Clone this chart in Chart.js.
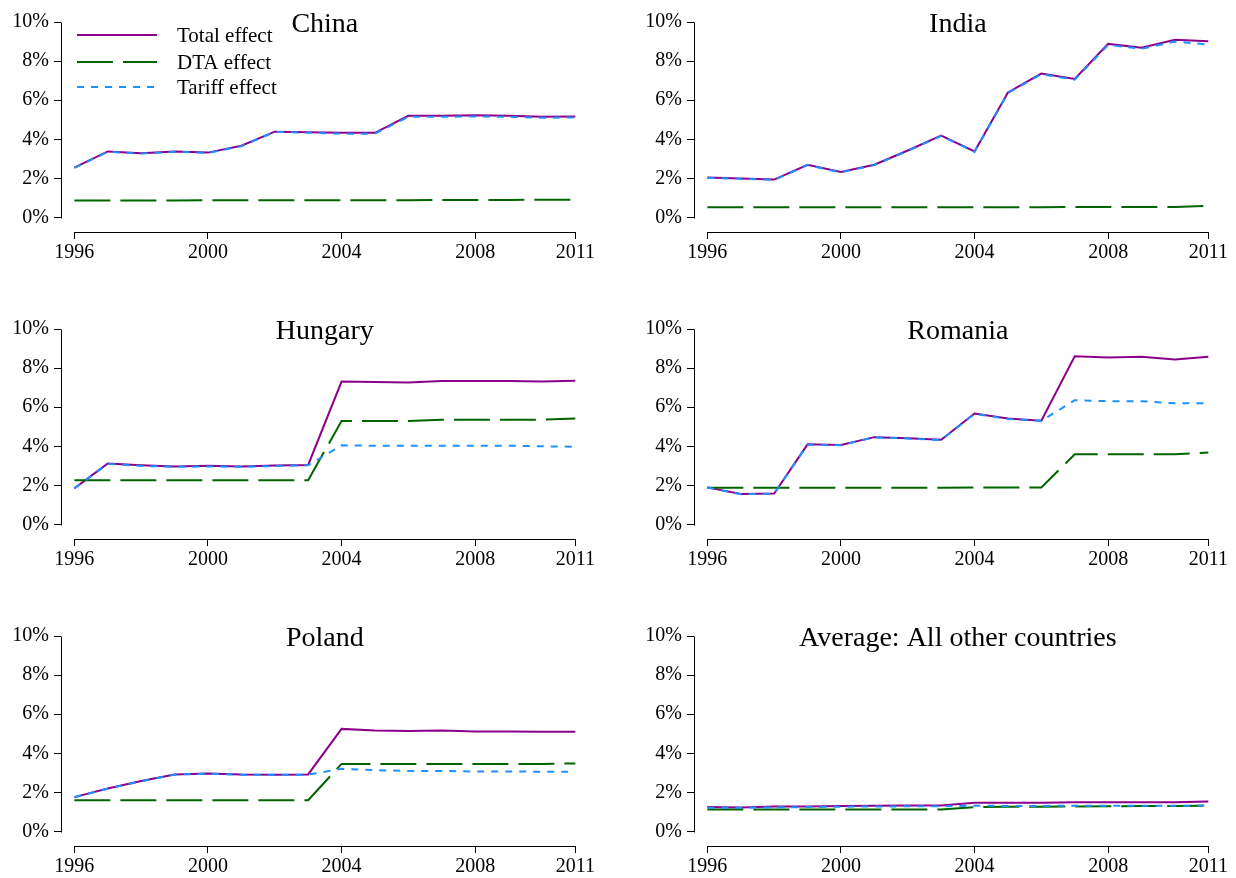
<!DOCTYPE html>
<html>
<head>
<meta charset="utf-8">
<title>Total, DTA and tariff effects, 1996–2011</title>
<script src="https://cdn.jsdelivr.net/npm/chart.js@4.4.1/dist/chart.umd.min.js"></script>
<style>
  html, body { margin: 0; padding: 0; background: #fff; overflow: hidden; }
  body { width: 1236px; height: 878px; position: relative; }
  canvas { position: absolute; }
</style>
</head>
<body>
<canvas id="pChina"></canvas>
<canvas id="pIndia"></canvas>
<canvas id="pHungary"></canvas>
<canvas id="pRomania"></canvas>
<canvas id="pPoland"></canvas>
<canvas id="pAverage"></canvas>
<script>
// ---- data (percent) ----
const years = [1996, 1997, 1998, 1999, 2000, 2001, 2002, 2003, 2004, 2005, 2006, 2007, 2008, 2009, 2010, 2011];
const xTickValues = [1996, 2000, 2004, 2008, 2011];
const yTickValues = [0, 2, 4, 6, 8, 10];
const seriesNames = ['Total effect', 'DTA effect', 'Tariff effect'];

const chinaTotal  = [2.55, 3.38, 3.29, 3.38, 3.32, 3.67, 4.39, 4.36, 4.33, 4.33, 5.20, 5.20, 5.23, 5.20, 5.15, 5.17];
const chinaDTA    = [0.87, 0.87, 0.87, 0.87, 0.88, 0.88, 0.88, 0.88, 0.89, 0.89, 0.89, 0.90, 0.90, 0.90, 0.91, 0.91];
const chinaTariff = [2.54, 3.36, 3.27, 3.36, 3.30, 3.65, 4.38, 4.34, 4.29, 4.29, 5.15, 5.15, 5.17, 5.15, 5.10, 5.12];

const indiaTotal  = [2.05, 2.00, 1.94, 2.70, 2.33, 2.70, 3.43, 4.19, 3.38, 6.40, 7.36, 7.09, 8.88, 8.68, 9.09, 9.02];
const indiaDTA    = [0.53, 0.53, 0.53, 0.53, 0.53, 0.53, 0.53, 0.53, 0.53, 0.53, 0.53, 0.54, 0.54, 0.54, 0.54, 0.60];
const indiaTariff = [2.03, 1.98, 1.92, 2.68, 2.31, 2.68, 3.41, 4.17, 3.36, 6.37, 7.33, 7.05, 8.83, 8.63, 9.00, 8.85];

const hungaryTotal  = [1.85, 3.12, 3.03, 2.97, 3.00, 2.97, 3.02, 3.05, 7.31, 7.29, 7.27, 7.34, 7.34, 7.34, 7.32, 7.36];
const hungaryDTA    = [2.27, 2.27, 2.27, 2.27, 2.27, 2.27, 2.27, 2.27, 5.29, 5.29, 5.29, 5.36, 5.36, 5.36, 5.36, 5.42];
const hungaryTariff = [1.85, 3.10, 3.00, 2.95, 2.97, 2.95, 2.99, 3.03, 4.05, 4.03, 4.03, 4.03, 4.03, 4.03, 4.00, 3.98];

const romaniaTotal  = [1.90, 1.56, 1.59, 4.10, 4.07, 4.47, 4.41, 4.34, 5.68, 5.42, 5.31, 8.61, 8.54, 8.58, 8.44, 8.58];
const romaniaDTA    = [1.88, 1.88, 1.88, 1.88, 1.88, 1.88, 1.88, 1.88, 1.90, 1.90, 1.90, 3.59, 3.59, 3.59, 3.59, 3.68];
const romaniaTariff = [1.89, 1.55, 1.58, 4.08, 4.06, 4.46, 4.40, 4.32, 5.66, 5.40, 5.30, 6.36, 6.31, 6.31, 6.20, 6.20];

const polandTotal  = [1.76, 2.20, 2.58, 2.92, 2.97, 2.92, 2.91, 2.92, 5.25, 5.17, 5.14, 5.17, 5.12, 5.12, 5.10, 5.10];
const polandDTA    = [1.60, 1.60, 1.60, 1.60, 1.60, 1.60, 1.60, 1.60, 3.46, 3.46, 3.46, 3.46, 3.46, 3.46, 3.46, 3.48];
const polandTariff = [1.75, 2.19, 2.57, 2.91, 2.96, 2.91, 2.90, 2.91, 3.21, 3.14, 3.10, 3.10, 3.07, 3.07, 3.06, 3.06];

const averageTotal  = [1.25, 1.23, 1.28, 1.28, 1.30, 1.32, 1.33, 1.33, 1.47, 1.47, 1.47, 1.50, 1.50, 1.50, 1.50, 1.54];
const averageDTA    = [1.13, 1.13, 1.13, 1.13, 1.13, 1.13, 1.13, 1.13, 1.25, 1.27, 1.27, 1.28, 1.29, 1.30, 1.31, 1.32];
const averageTariff = [1.22, 1.21, 1.24, 1.25, 1.27, 1.28, 1.29, 1.29, 1.32, 1.31, 1.31, 1.32, 1.32, 1.32, 1.32, 1.33];

// ---- styles ----
const SERIF = '"Liberation Serif", "Times New Roman", Times, serif';
const COLORS = ['#8B008B', '#006400', '#1E90FF'];
const DASHES = [[], [36, 10], [7, 7]];

// Column / row geometry of the 3 x 2 panel grid
const COLS = [
  { left: 0,   width: 610, axisWidth: 61, padRight: 21.3 },
  { left: 620, width: 616, axisWidth: 74, padRight: 14.3 }
];
const ROW_TOPS = [0, 307, 614];
const PANEL_H = 264;

// R-style detached axis lines: y from 0 to 10, x from 1996 to 2011
const axisLines = {
  id: 'axisLines',
  afterDraw(chart) {
    const { ctx, chartArea, scales } = chart;
    const xs = scales.x, ys = scales.y;
    ctx.save();
    ctx.strokeStyle = '#000';
    ctx.lineWidth = 1;
    ctx.setLineDash([]);
    const ax = Math.round(chartArea.left) + 0.5;
    ctx.beginPath();
    ctx.moveTo(ax, Math.round(ys.getPixelForValue(yTickValues[0])) + 0.5);
    ctx.lineTo(ax, Math.round(ys.getPixelForValue(yTickValues[yTickValues.length - 1])) + 0.5);
    ctx.stroke();
    const ay = Math.round(chartArea.bottom) + 0.5;
    ctx.beginPath();
    ctx.moveTo(Math.round(xs.getPixelForValue(xTickValues[0])) + 0.5, ay);
    ctx.lineTo(Math.round(xs.getPixelForValue(xTickValues[xTickValues.length - 1])) + 0.5, ay);
    ctx.stroke();
    ctx.restore();
  }
};

// Panel heading drawn inside the plot region
const panelTitle = {
  id: 'panelTitle',
  afterDraw(chart, args, opts) {
    const { ctx, chartArea } = chart;
    ctx.save();
    ctx.font = '28px ' + SERIF;
    ctx.fillStyle = '#000';
    ctx.textAlign = 'center';
    ctx.textBaseline = 'alphabetic';
    ctx.fillText(opts.text, (chartArea.left + chartArea.right) / 2, chartArea.top + 27);
    ctx.restore();
  }
};

// Line-sample legend placed in the upper left of the plot region
const lineLegend = {
  id: 'lineLegend',
  afterDraw(chart, args, opts) {
    if (!opts.show) return;
    const { ctx, chartArea } = chart;
    const x0 = chartArea.left + 16, x1 = x0 + 80, tx = x1 + 20;
    const rows = [chartArea.top + 30, chartArea.top + 57, chartArea.top + 82];
    ctx.save();
    chart.data.datasets.forEach((ds, i) => {
      ctx.strokeStyle = ds.borderColor;
      ctx.lineWidth = ds.borderWidth;
      ctx.setLineDash(ds.borderDash || []);
      ctx.beginPath();
      ctx.moveTo(x0, rows[i]);
      ctx.lineTo(x1, rows[i]);
      ctx.stroke();
      ctx.setLineDash([]);
      ctx.font = '21px ' + SERIF;
      ctx.fillStyle = '#000';
      ctx.textAlign = 'left';
      ctx.textBaseline = 'middle';
      ctx.fillText(ds.label, tx, rows[i] + 1);
    });
    ctx.restore();
  }
};

function makePanel(id, title, col, row, total, dta, tariff, showLegend) {
  const c = COLS[col];
  const canvas = document.getElementById(id);
  canvas.width = c.width;
  canvas.height = PANEL_H;
  canvas.style.left = c.left + 'px';
  canvas.style.top = ROW_TOPS[row] + 'px';
  canvas.style.width = c.width + 'px';
  canvas.style.height = PANEL_H + 'px';

  const series = [total, dta, tariff];
  const datasets = series.map((vals, i) => ({
    label: seriesNames[i],
    data: years.map((y, k) => ({ x: y, y: vals[k] })),
    borderColor: COLORS[i],
    backgroundColor: COLORS[i],
    borderWidth: 2,
    borderDash: DASHES[i],
    pointRadius: 0,
    tension: 0,
    fill: false,
    order: 3 - i
  }));

  const tickFont = { family: SERIF, size: 20 };
  const grid = { display: true, drawOnChartArea: false, drawTicks: true, tickLength: 7, color: '#000', lineWidth: 1 };

  return new Chart(canvas, {
    type: 'line',
    data: { datasets },
    options: {
      responsive: false,
      animation: false,
      devicePixelRatio: 1,
      layout: { padding: { left: 0, right: c.padRight, top: 5, bottom: 0 } },
      plugins: {
        legend: { display: false },
        tooltip: { enabled: false },
        title: { display: false },
        panelTitle: { text: title },
        lineLegend: { show: showLegend }
      },
      scales: {
        x: {
          type: 'linear',
          min: 1995.6,
          max: 2011.4,
          border: { display: false },
          grid,
          ticks: {
            font: tickFont, color: '#000', padding: 2,
            autoSkip: false, maxRotation: 0,
            callback: v => String(v)
          },
          afterBuildTicks: s => { s.ticks = xTickValues.map(v => ({ value: v })); },
          afterFit: s => { s.height = 32; s.paddingLeft = 0; s.paddingRight = 0; }
        },
        y: {
          type: 'linear',
          min: -0.74,
          max: 10.87,
          border: { display: false },
          grid,
          ticks: {
            font: tickFont, color: '#000', padding: 5,
            callback: v => v + '%'
          },
          afterBuildTicks: s => { s.ticks = yTickValues.map(v => ({ value: v })); },
          afterFit: s => { s.width = c.axisWidth; s.paddingTop = 0; s.paddingBottom = 0; }
        }
      }
    },
    plugins: [axisLines, panelTitle, lineLegend]
  });
}

makePanel('pChina',   'China',   0, 0, chinaTotal,   chinaDTA,   chinaTariff,   true);
makePanel('pIndia',   'India',   1, 0, indiaTotal,   indiaDTA,   indiaTariff,   false);
makePanel('pHungary', 'Hungary', 0, 1, hungaryTotal, hungaryDTA, hungaryTariff, false);
makePanel('pRomania', 'Romania', 1, 1, romaniaTotal, romaniaDTA, romaniaTariff, false);
makePanel('pPoland',  'Poland',  0, 2, polandTotal,  polandDTA,  polandTariff,  false);
makePanel('pAverage', 'Average: All other countries', 1, 2, averageTotal, averageDTA, averageTariff, false);
</script>
</body>
</html>
